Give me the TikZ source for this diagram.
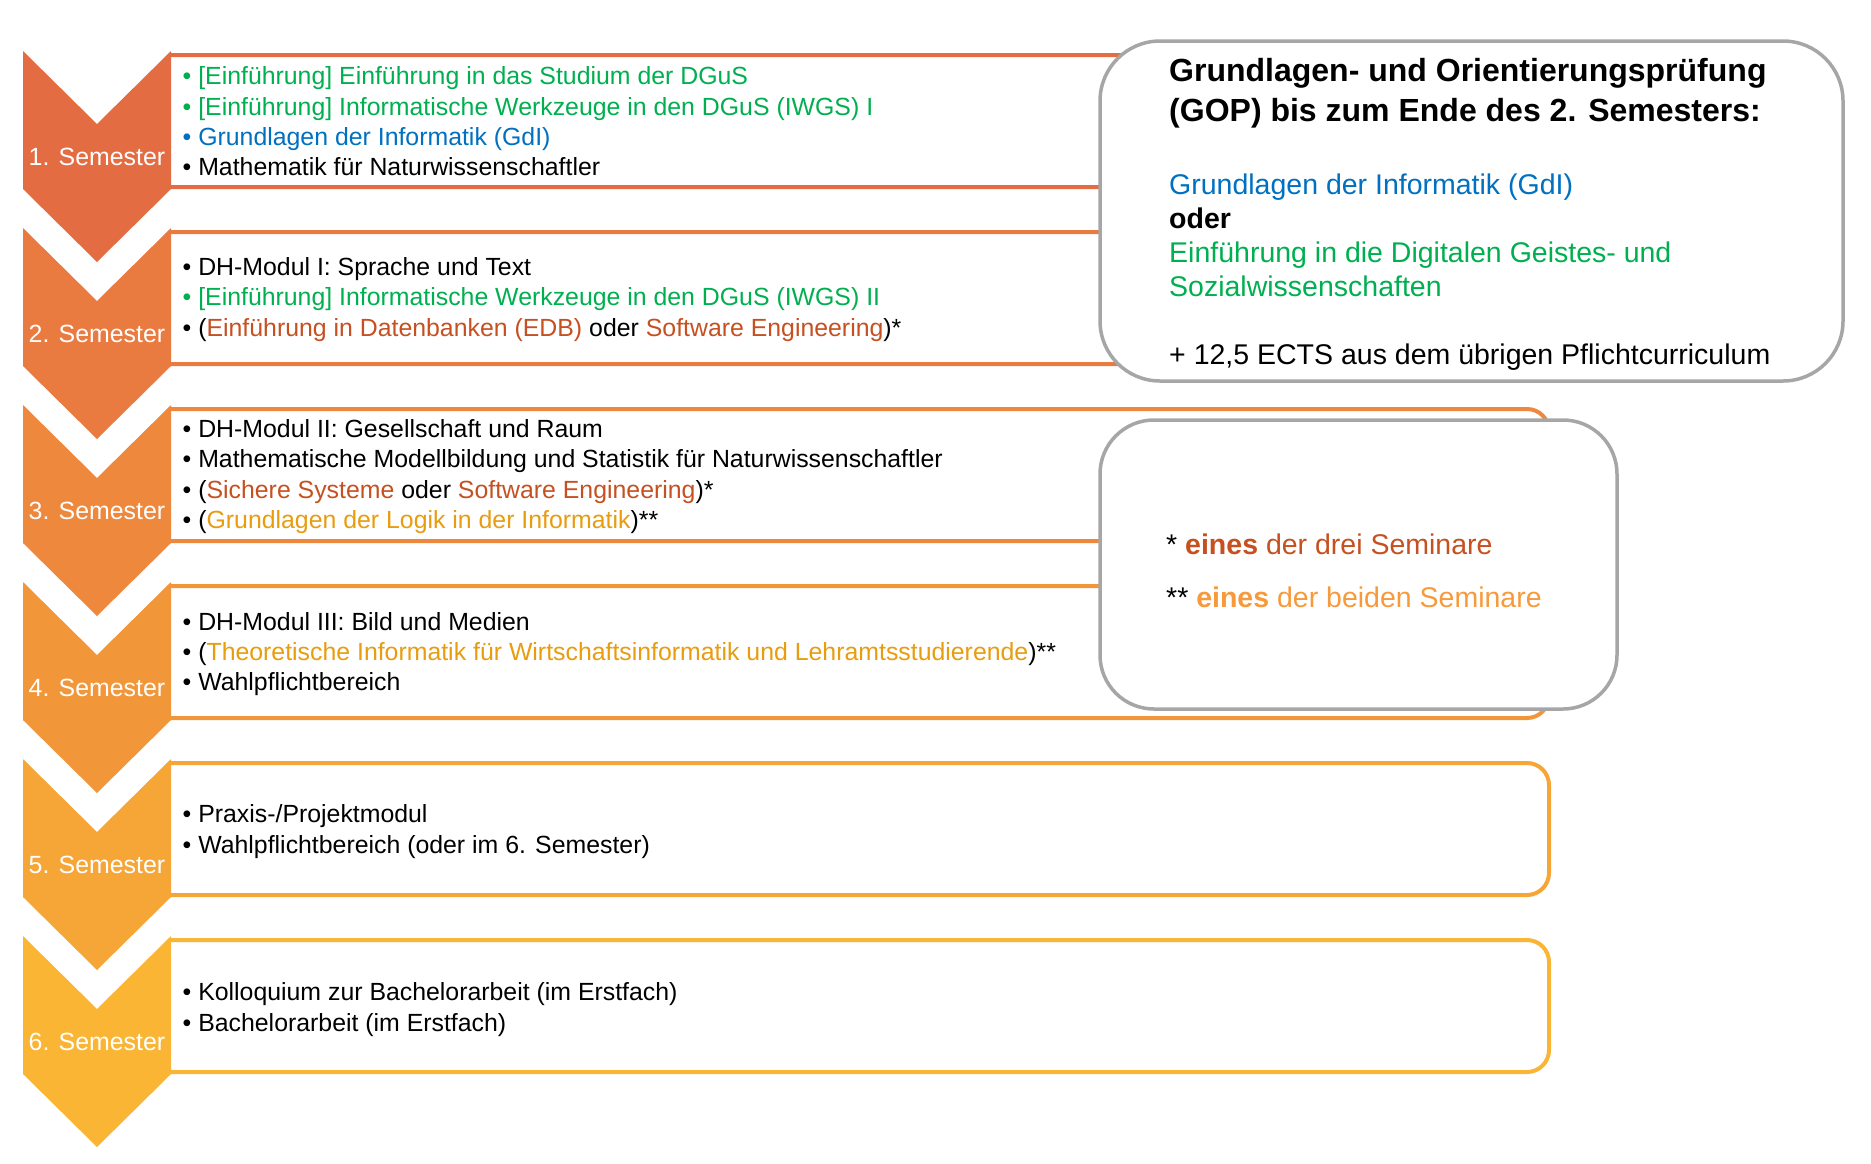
\documentclass[tikz,border=0pt]{standalone}
\usepackage{fontspec}
\setmainfont{Liberation Sans}
\usepackage{xcolor}
\usepackage{tikz}
\usetikzlibrary{calc}
\definecolor{semA}{HTML}{E46C42}
\definecolor{semB}{HTML}{E97A40}
\definecolor{semC}{HTML}{EE883D}
\definecolor{semD}{HTML}{F2963A}
\definecolor{semE}{HTML}{F6A537}
\definecolor{semF}{HTML}{FBB534}
\definecolor{figGreen}{HTML}{00B050}
\definecolor{figBlue}{HTML}{0070C0}
\definecolor{figRed}{HTML}{C65020}
\definecolor{figGold}{HTML}{E89C0E}
\definecolor{figLight}{HTML}{F79A3B}
\definecolor{figGray}{HTML}{A6A6A6}

\begin{document}
\begin{tikzpicture}[
  x=1pt, y=-1pt,
  every node/.style={inner sep=0pt},
  body/.style={anchor=west, align=left, font=\fontsize{24.85}{30.3}\selectfont},
  semlabel/.style={text=white, font=\fontsize{24.9}{28}\selectfont},
  infobox/.style={draw=figGray, line width=3.5pt, fill=white},
  infotext/.style={anchor=west, align=left, font=\fontsize{28.5}{34}\selectfont},
]
\useasboundingbox (0,0) rectangle (1871,1163);

% Semester boxes and chevrons
\foreach \n/\col in {1/semA,2/semB,3/semC,4/semD,5/semE,6/semF} {
  \pgfmathsetmacro{\ytop}{51+177*(\n-1)}
  \draw[\col, line width=4pt, rounded corners=22pt, fill=white]
    (171,\ytop+4) -- (1549,\ytop+4) -- (1549,\ytop+136) -- (171,\ytop+136);
  \fill[\col] (23,\ytop) -- (97,\ytop+73) -- (171,\ytop) -- (171,\ytop+138)
    -- (97,\ytop+211) -- (23,\ytop+138) -- cycle;
  \node[semlabel] (sem\n) at (97,\ytop+106) {\n. Semester};
}

% Modules per semester
\node[body] (row1) at (182.5,121.5) {%
  \textcolor{figGreen}{• [Einführung] Einführung in das Studium der DGuS}\\
  \textcolor{figGreen}{• [Einführung] Informatische Werkzeuge in den DGuS (IWGS) I}\\
  \textcolor{figBlue}{• Grundlagen der Informatik (GdI)}\\
  • Mathematik für Naturwissenschaftler};
\node[body] (row2) at (182.5,299.5) {%
  • DH-Modul I: Sprache und Text\\
  \textcolor{figGreen}{• [Einführung] Informatische Werkzeuge in den DGuS (IWGS) II}\\
  • (\textcolor{figRed}{Einführung in Datenbanken (EDB)} oder \textcolor{figRed}{Software Engineering})*};
\node[body] (row3) at (182.5,476.5) {%
  • DH-Modul II: Gesellschaft und Raum\\
  • Mathematische Modellbildung und Statistik für Naturwissenschaftler\\
  • (\textcolor{figRed}{Sichere Systeme} oder \textcolor{figRed}{Software Engineering})*\\
  • (\textcolor{figGold}{Grundlagen der Logik in der Informatik})**};
\node[body] (row4) at (182.5,654) {%
  • DH-Modul III: Bild und Medien\\
  • (\textcolor{figGold}{Theoretische Informatik für Wirtschaftsinformatik und Lehramtsstudierende})**\\
  • Wahlpflichtbereich};
\node[body] (row5) at (182.5,831.5) {%
  • Praxis-/Projektmodul\\
  • Wahlpflichtbereich (oder im 6. Semester)};
\node[body] (row6) at (182.5,1009.5) {%
  • Kolloquium zur Bachelorarbeit (im Erstfach)\\
  • Bachelorarbeit (im Erstfach)};

% GOP box
\draw[infobox, rounded corners=60pt] (1100,41) rectangle (1843,381);
\node[anchor=west, align=left, font=\fontsize{32}{40}\selectfont\bfseries] (goptitle) at (1169,93.5)
  {Grundlagen- und Orientierungsprüfung\\(GOP) bis zum Ende des 2. Semesters:};
\node[infotext] (gopbody) at (1169,272) {%
  \textcolor{figBlue}{Grundlagen der Informatik (GdI)}\\
  \textbf{oder}\\
  \textcolor{figGreen}{Einführung in die Digitalen Geistes- und}\\
  \textcolor{figGreen}{Sozialwissenschaften}\\[34pt]
  + 12,5 ECTS aus dem übrigen Pflichtcurriculum};

% Footnote box
\draw[infobox, rounded corners=54pt] (1100,420) rectangle (1617,709);
\node[infotext] (notes) at (1166,571) {%
  * \textcolor{figRed}{\textbf{eines} der drei Seminare}\\[19pt]
  ** \textcolor{figLight}{\textbf{eines} der beiden Seminare}};

\end{tikzpicture}
\end{document}
